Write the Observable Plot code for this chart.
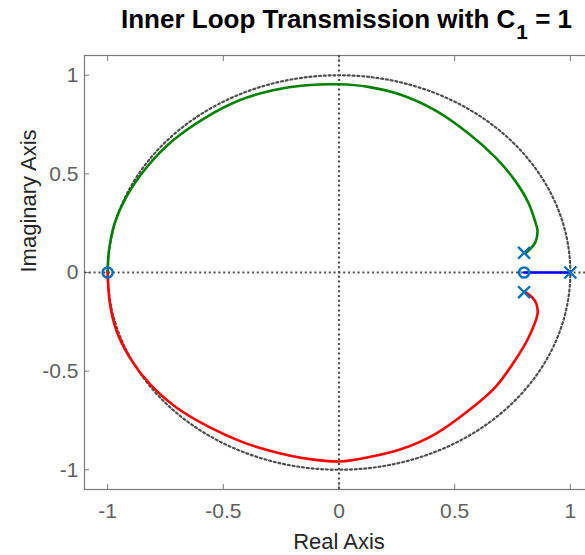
<!DOCTYPE html>
<html>
<head>
<meta charset="utf-8">
<script src="https://cdn.jsdelivr.net/npm/d3@7"></script>
<script src="https://cdn.jsdelivr.net/npm/@observablehq/plot@0.6"></script>
<style>
  html, body { margin: 0; padding: 0; background: #fff; overflow: hidden; }
  #wrap { position: relative; width: 585px; height: 555px; overflow: hidden; }
  #title {
    position: absolute; top: 6px; left: 92px; width: 509px;
    text-align: center; white-space: nowrap;
    font: bold 26px "Liberation Sans", Arial, sans-serif; color: #000; line-height: 1;
  }
  #title .sub { position: relative; top: 11px; font-size: 0.8em; margin-left: 1px; }
  #chart { position: absolute; top: 0; left: 0; }
  #chart svg { max-width: none !important; }
</style>
</head>
<body>
<div id="wrap">
  <div id="chart"></div>
  <div id="title">Inner Loop Transmission with C<span class="sub">1</span> = 1</div>
</div>
<script>
// Upper branch: from the complex pole 0.8 + 0.1j round to the zero at -1
const greenRe = [0.805, 0.827, 0.849, 0.858, 0.850, 0.820, 0.760, 0.675, 0.560, 0.416, 0.270, 0.126, 0.000, -0.140, -0.285, -0.430, -0.573, -0.717, -0.830, -0.920, -0.970, -0.994, -1.000];
const greenIm = [0.098, 0.120, 0.154, 0.213, 0.250, 0.350, 0.467, 0.585, 0.705, 0.822, 0.900, 0.941, 0.954, 0.949, 0.924, 0.873, 0.788, 0.670, 0.535, 0.382, 0.249, 0.112, 0.000];

// Lower branch: from the complex pole 0.8 - 0.1j round to the zero at -1
const redRe = [0.805, 0.834, 0.853, 0.858, 0.820, 0.760, 0.675, 0.560, 0.416, 0.270, 0.126, 0.004, -0.126, -0.270, -0.414, -0.558, -0.703, -0.818, -0.905, -0.962, -0.990, -1.000];
const redIm = [-0.100, -0.125, -0.158, -0.210, -0.328, -0.447, -0.582, -0.700, -0.819, -0.895, -0.937, -0.958, -0.946, -0.912, -0.861, -0.785, -0.684, -0.565, -0.430, -0.294, -0.159, 0.000];

// Real-axis branch: from the pole at 1 to the zero at 0.8
const blueRe = [1.0, 0.8];
const blueIm = [0.0, 0.0];

// Open-loop poles and zeros
const poleRe = [0.8, 0.8, 1.0];
const poleIm = [0.1, -0.1, 0.0];
const zeroRe = [0.8, -1.0];
const zeroIm = [0.0, 0.0];

// Axis ticks
const xTicks = [-1, -0.5, 0, 0.5, 1];
const yTicks = [-1, -0.5, 0, 0.5, 1];
const xLabel = "Real Axis";
const yLabel = "Imaginary Axis";

const zip = (re, im) => re.map((r, i) => ({re: r, im: im[i]}));
const green = zip(greenRe, greenIm);
const red = zip(redRe, redIm);
const blue = zip(blueRe, blueIm);
const poles = zip(poleRe, poleIm);
const zeros = zip(zeroRe, zeroIm);

// Unit circle guide (stability boundary)
const circle = d3.range(0, 361, 2).map(a => ({re: Math.cos(a * Math.PI / 180), im: Math.sin(a * Math.PI / 180)}));

const font = "'Liberation Sans', Arial, Helvetica, sans-serif";
const axisColor = "#7a7a7a";
const tickText = "#606060";
const guide = {stroke: "#505050", strokeWidth: 2.2, strokeDasharray: "2,2.8"};
const markerBlue = "#0072BD";

const plot = Plot.plot({
  width: 593,
  height: 555,
  marginLeft: 84,
  marginRight: 0,
  marginTop: 55,
  marginBottom: 66,
  style: {fontFamily: font, background: "#fff"},
  x: {domain: [-1.1, 1.1]},
  y: {domain: [-1.1, 1.1]},
  marks: [
    Plot.frame({stroke: axisColor, strokeWidth: 1.2}),
    Plot.axisX(xTicks, {anchor: "bottom", tickSize: -5, tickPadding: 19, fontSize: 21, color: tickText, stroke: axisColor, label: null, tickFormat: d => String(d)}),
    Plot.axisX(xTicks, {anchor: "top", tickSize: -5, text: null, stroke: axisColor, label: null}),
    Plot.axisY(yTicks, {anchor: "left", tickSize: -5, tickPadding: 11, fontSize: 21, color: tickText, stroke: axisColor, label: null, tickFormat: d => String(d)}),
    Plot.text([xLabel], {frameAnchor: "bottom", dy: 52, fontSize: 22, fill: "#262626", lineAnchor: "middle"}),
    Plot.text([yLabel], {frameAnchor: "left", dx: -56, rotate: -90, fontSize: 22, fill: "#262626", lineAnchor: "middle"}),
    Plot.line(circle, {x: "re", y: "im", ...guide}),
    Plot.ruleX([0], {...guide}),
    Plot.ruleY([0], {...guide}),
    Plot.line(green, {x: "re", y: "im", stroke: "#008000", strokeWidth: 2.6, curve: "catmull-rom"}),
    Plot.line(red, {x: "re", y: "im", stroke: "#ff0000", strokeWidth: 2.6, curve: "catmull-rom"}),
    Plot.line(blue, {x: "re", y: "im", stroke: "#0000ff", strokeWidth: 2.6}),
    Plot.dot(zeros, {x: "re", y: "im", symbol: "circle", r: 5, stroke: markerBlue, strokeWidth: 2.6, fill: "none"}),
    Plot.dot(poles, {x: "re", y: "im", symbol: "times", r: 5.5, stroke: markerBlue, strokeWidth: 2.4})
  ]
});
document.getElementById("chart").append(plot);
</script>
</body>
</html>
